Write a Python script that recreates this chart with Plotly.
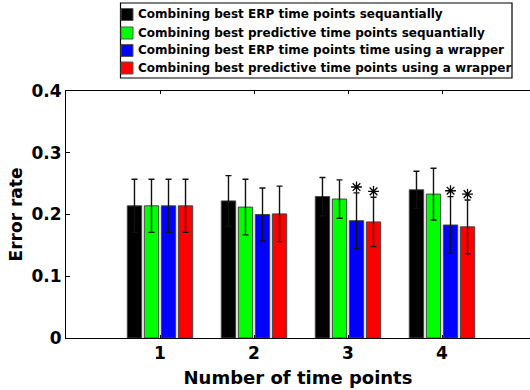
import plotly.graph_objects as go

# Mean error rates per method for 1..4 combined time points
n_points = [1, 2, 3, 4]
series_names = [
    "Combining best ERP time points sequantially",
    "Combining best predictive time points sequantially",
    "Combining best ERP time points time using a wrapper",
    "Combining best predictive time points using a wrapper",
]
erp_seq = [0.214, 0.222, 0.229, 0.240]
pred_seq = [0.214, 0.212, 0.225, 0.233]
erp_wrap = [0.214, 0.200, 0.190, 0.183]
pred_wrap = [0.214, 0.201, 0.188, 0.180]

erp_seq_err = [0.043, 0.041, 0.031, 0.030]
pred_seq_err = [0.043, 0.045, 0.031, 0.042]
erp_wrap_err = [0.043, 0.043, 0.045, 0.046]
pred_wrap_err = [0.043, 0.045, 0.040, 0.0435]

# significance markers (asterisk above the error bar)
erp_seq_sig = [False, False, False, False]
pred_seq_sig = [False, False, False, False]
erp_wrap_sig = [False, False, True, True]
pred_wrap_sig = [False, False, True, True]

colors = ["#000000", "#00FF00", "#0000FF", "#FF0000"]

means = [erp_seq, pred_seq, erp_wrap, pred_wrap]
errs = [erp_seq_err, pred_seq_err, erp_wrap_err, pred_wrap_err]
sigs = [erp_seq_sig, pred_seq_sig, erp_wrap_sig, pred_wrap_sig]

FONT = "DejaVu Sans"
W, H = 530, 390
ML, MR, MT, MB = 66, 0, 91, 52
px_per_unit = 94.0
x_max = (W - ML - MR) / px_per_unit

bar_w = 0.153
pitch = 0.181
centers = [(k - 1.5) * pitch for k in range(4)]

fig = go.Figure()

for k in range(4):
    fig.add_trace(go.Bar(
        x=n_points, y=means[k],
        width=bar_w, offset=centers[k] - bar_w / 2,
        marker=dict(color=colors[k], line=dict(color="#444444", width=1)),
        error_y=dict(type="data", array=errs[k], color="#111111",
                     thickness=1.4, width=3),
        name=series_names[k], showlegend=False,
    ))

# asterisks above significant results
for k in range(4):
    xs, ys = [], []
    for i, g in enumerate(n_points):
        if sigs[k][i]:
            xs.append(g + centers[k])
            ys.append(means[k][i] + errs[k][i] + 0.0095)
    if xs:
        fig.add_trace(go.Scatter(
            x=xs, y=ys, mode="markers", showlegend=False, hoverinfo="skip",
            marker=dict(symbol="asterisk-open", size=9, color="#000000",
                        line=dict(color="#000000", width=1.3)),
        ))

# legend box drawn in pixel terms converted to paper coordinates
def px_x(x):
    return (x - ML) / (W - ML - MR)

def px_y(y):
    return (H - MB - y) / (H - MT - MB)

shapes = [dict(type="rect", xref="paper", yref="paper",
               x0=px_x(120.5), x1=px_x(512), y0=px_y(78), y1=px_y(3),
               line=dict(color="#000000", width=1.2), fillcolor="white",
               layer="above")]
annotations = []
row_c = [14.5, 33, 50.5, 68]
for k in range(4):
    cy = row_c[k]
    shapes.append(dict(type="rect", xref="paper", yref="paper",
                       x0=px_x(121), x1=px_x(133), y0=px_y(cy + 6), y1=px_y(cy - 6),
                       line=dict(color="#555555", width=1), fillcolor=colors[k],
                       layer="above"))
    annotations.append(dict(xref="paper", yref="paper", x=px_x(136), y=px_y(cy),
                            xanchor="left", yanchor="middle", showarrow=False,
                            text=series_names[k],
                            font=dict(family=FONT, size=12, color="black", weight="bold")))

fig.update_layout(
    width=W, height=H,
    margin=dict(l=ML, r=MR, t=MT, b=MB, pad=0),
    plot_bgcolor="white", paper_bgcolor="white",
    barmode="overlay",
    shapes=shapes, annotations=annotations,
    font=dict(family=FONT, color="black"),
)
fig.update_xaxes(
    range=[0, x_max], tickvals=n_points, ticktext=[str(v) for v in n_points],
    ticks="inside", ticklen=3, tickcolor="#000", showgrid=False, zeroline=False,
    showline=True, linecolor="#000", linewidth=1, mirror="ticks",
    tickfont=dict(family=FONT, size=17, weight="bold"),
    title=dict(text="Number of time points", standoff=8,
               font=dict(family=FONT, size=18, weight="bold")),
    automargin=False,
)
fig.update_yaxes(
    range=[0, 0.4], tickvals=[0, 0.1, 0.2, 0.3, 0.4],
    ticktext=["0", "0.1", "0.2", "0.3", "0.4"],
    ticks="inside", ticklen=4, tickcolor="#000", showgrid=False, zeroline=False,
    showline=True, linecolor="#000", linewidth=1, mirror=False,
    tickfont=dict(family=FONT, size=17, weight="bold"),
    title=dict(text="Error rate", standoff=4,
               font=dict(family=FONT, size=17, weight="bold")),
    automargin=False,
)

fig.write_html("out.html")
